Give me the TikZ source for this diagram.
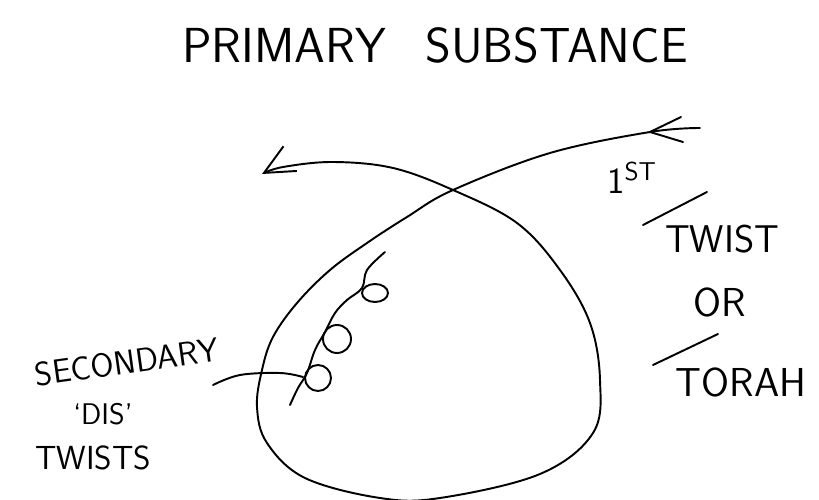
\documentclass[tikz,border=0pt]{standalone}
\usepackage{fontspec}
\usetikzlibrary{arrows.meta}
\tikzset{
  pen/.style={line width=1.1pt, line cap=round, line join=round},
  hand/.style={font=\sffamily\fontsize{#1}{#1}\selectfont, inner sep=0pt},
}
\begin{document}
\begin{tikzpicture}[x=0.02cm, y=-0.02cm]
  \useasboundingbox (0,0) rectangle (819,500);
  % title
  \node[hand=28] (title) at (435,45) {PRIMARY\hspace{0.8em}SUBSTANCE};

  % first twist: one stroke, entering at the right, leaving at the left
  \coordinate (tailR) at (700,128);
  \coordinate (markR) at (650,132);
  \coordinate (barbR1) at (681,117);
  \coordinate (barbR2) at (683,142);
  \coordinate (cross) at (453,190);
  \coordinate (headL) at (262,174);
  \draw[pen, -{Straight Barb[length=17pt, width=16pt, line width=1.1pt]}]
    plot[smooth, tension=0.6] coordinates {
      (tailR) (markR) (550,153) (cross) (407,217) (367,243) (330,270)
      (297,303) (273,337) (262,370) (257,407) (267,443) (305,478)
      (380,498) (440,498) (540,474) (593,433) (600,380) (590,323)
      (560,270) (517,223) (cross) (393,168) (333,162) (283,167) (headL)};
  \draw[pen] (barbR1) -- (markR) -- (barbR2);

  % secondary twists
  \coordinate (dis0) at (290,405);
  \coordinate (dis1) at (385,252);
  \draw[pen] plot[smooth, tension=0.6] coordinates {
      (dis0) (298,388) (307,373) (315,350) (325,332) (335,313) (347,300)
      (362,288) (367,270) (dis1)};
  \draw[pen] (318,378) circle[radius=13];
  \draw[pen] (337,339) circle[radius=14];
  \draw[pen] (375,293) ellipse[x radius=13, y radius=9];

  % labels, right
  \node[hand=21] (first) at (632,178) {1\textsuperscript{ST}};
  \node[hand=22] (twist) at (722,239) {TWIST};
  \draw[pen] (643,225) -- (707,192);
  \node[hand=23] (or) at (720,302) {OR};
  \node[hand=23] (torah) at (741,382) {TORAH};
  \draw[pen] (653,365) -- (718,334);

  % labels, left
  \node[hand=19, rotate=8] (secondary) at (127,362) {SECONDARY};
  \node[hand=17] (dis) at (103,414) {`DIS'};
  \node[hand=19] (twists) at (93,458) {TWISTS};
  \draw[pen] plot[smooth, tension=0.6] coordinates {
      (213,385) (240,375) (280,373) (303,377)};
\end{tikzpicture}
\end{document}
